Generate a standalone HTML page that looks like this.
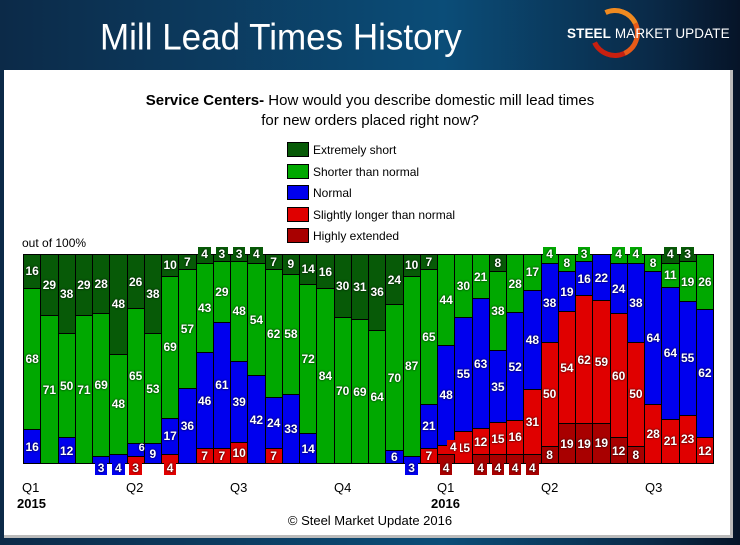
<!DOCTYPE html>
<html><head><meta charset="utf-8"><style>
body{margin:0;width:740px;height:545px;overflow:hidden;background:linear-gradient(90deg,#0c2a48 0%,#0b4d78 60%,#0a2a48 88%,#061428 100%);font-family:"Liberation Sans",sans-serif;position:relative}
.title{position:absolute;left:100px;top:17px;color:#fff;font-size:35px;white-space:nowrap;transform:scaleY(1.05);transform-origin:left top}
.logo{position:absolute;left:567px;top:26px;color:#fff;font-size:13.5px;letter-spacing:0.1px;white-space:nowrap}
.ring{position:absolute;left:590px;top:8px;width:40px;height:40px;border-radius:50%;border:5px solid transparent;border-top-color:#f08a20;border-right-color:#e85a18;border-bottom-color:#c82010;transform:rotate(20deg)}
.panel{position:absolute;left:4px;top:70px;width:726px;height:465px;background:#fff;border-right:3px solid #bbb;border-bottom:3px solid #bbb}
.q{position:absolute;font-size:13px;color:#000}
.plot{position:absolute;left:23px;top:254px;width:691px;height:210px;display:flex;border:1.5px solid #000;box-sizing:border-box;background:#fff}
.bar{flex:1 1 0;display:flex;flex-direction:column;border-left:1px solid #000;min-width:0}
.bar:first-child{border-left:none}
.s{position:relative;display:flex;align-items:center;justify-content:center;border-top:1px solid #000;color:#fff;font-size:12px;font-weight:bold;min-height:0;text-shadow:0 0 2px #000}
.s:first-child{border-top:none}
.a{background:#075a07}.b{background:#00a800}.c{background:#0000ee}.d{background:#e00000}.e{background:#a80000}
.s i{font-style:normal;position:absolute;padding:0 3px;z-index:2}
.t i{top:-8px}.u i{bottom:-12px}
.a i{background:#075a07}.b i{background:#00a800}.c i{background:#0000ee}.d i{background:#e00000}.e i{background:#a80000}
.leg{position:absolute;left:287px;font-size:12px;color:#000}
.leg b{display:inline-block;width:20px;height:13px;border:1px solid #000;vertical-align:-3px;margin-right:4px}
</style></head><body>
<div class="title">Mill Lead Times History</div>
<div class="ring"></div>
<div class="logo"><b>STEEL</b> MARKET <span style="font-weight:normal">UPDATE</span></div>
<div class="panel"></div>
<div style="position:absolute;left:0;width:740px;top:91px;text-align:center;font-size:15px;line-height:20px;color:#000"><b>Service Centers-</b> How would you describe domestic mill lead times<br>for new orders placed right now?</div>
<div class="leg" style="top:142px"><b style="background:#075a07"></b>Extremely short</div>
<div class="leg" style="top:164px"><b style="background:#00a800"></b>Shorter than normal</div>
<div class="leg" style="top:185px"><b style="background:#0000ee"></b>Normal</div>
<div class="leg" style="top:207px"><b style="background:#e00000"></b>Slightly longer than normal</div>
<div class="leg" style="top:228px"><b style="background:#a80000"></b>Highly extended</div>
<div class="q" style="left:22px;top:236px;font-size:12px">out of 100%</div>
<div class="plot">
<div class="bar"><div class="s a" style="flex:16 0 0">16</div><div class="s b" style="flex:68 0 0">68</div><div class="s c" style="flex:16 0 0">16</div></div>
<div class="bar"><div class="s a" style="flex:29 0 0">29</div><div class="s b" style="flex:71 0 0">71</div></div>
<div class="bar"><div class="s a" style="flex:38 0 0">38</div><div class="s b" style="flex:50 0 0">50</div><div class="s c" style="flex:12 0 0">12</div></div>
<div class="bar"><div class="s a" style="flex:29 0 0">29</div><div class="s b" style="flex:71 0 0">71</div></div>
<div class="bar"><div class="s a" style="flex:28 0 0">28</div><div class="s b" style="flex:69 0 0">69</div><div class="s c u" style="flex:3 0 0"><i>3</i></div></div>
<div class="bar"><div class="s a" style="flex:48 0 0">48</div><div class="s b" style="flex:48 0 0">48</div><div class="s c u" style="flex:4 0 0"><i>4</i></div></div>
<div class="bar"><div class="s a" style="flex:26 0 0">26</div><div class="s b" style="flex:65 0 0">65</div><div class="s c" style="flex:6 0 0;font-size:11px"><span style="position:relative;left:6px;top:-2px">6</span></div><div class="s d u" style="flex:3 0 0"><i>3</i></div></div>
<div class="bar"><div class="s a" style="flex:38 0 0">38</div><div class="s b" style="flex:53 0 0">53</div><div class="s c" style="flex:9 0 0">9</div></div>
<div class="bar"><div class="s a" style="flex:10 0 0">10</div><div class="s b" style="flex:69 0 0">69</div><div class="s c" style="flex:17 0 0">17</div><div class="s d u" style="flex:4 0 0"><i>4</i></div></div>
<div class="bar"><div class="s a" style="flex:7 0 0">7</div><div class="s b" style="flex:57 0 0">57</div><div class="s c" style="flex:36 0 0">36</div></div>
<div class="bar"><div class="s a t" style="flex:4 0 0"><i>4</i></div><div class="s b" style="flex:43 0 0">43</div><div class="s c" style="flex:46 0 0">46</div><div class="s d" style="flex:7 0 0">7</div></div>
<div class="bar"><div class="s a t" style="flex:3 0 0"><i>3</i></div><div class="s b" style="flex:29 0 0">29</div><div class="s c" style="flex:61 0 0">61</div><div class="s d" style="flex:7 0 0">7</div></div>
<div class="bar"><div class="s a t" style="flex:3 0 0"><i>3</i></div><div class="s b" style="flex:48 0 0">48</div><div class="s c" style="flex:39 0 0">39</div><div class="s d" style="flex:10 0 0">10</div></div>
<div class="bar"><div class="s a t" style="flex:4 0 0"><i>4</i></div><div class="s b" style="flex:54 0 0">54</div><div class="s c" style="flex:42 0 0">42</div></div>
<div class="bar"><div class="s a" style="flex:7 0 0">7</div><div class="s b" style="flex:62 0 0">62</div><div class="s c" style="flex:24 0 0">24</div><div class="s d" style="flex:7 0 0">7</div></div>
<div class="bar"><div class="s a" style="flex:9 0 0">9</div><div class="s b" style="flex:58 0 0">58</div><div class="s c" style="flex:33 0 0">33</div></div>
<div class="bar"><div class="s a" style="flex:14 0 0">14</div><div class="s b" style="flex:72 0 0">72</div><div class="s c" style="flex:14 0 0">14</div></div>
<div class="bar"><div class="s a" style="flex:16 0 0">16</div><div class="s b" style="flex:84 0 0">84</div></div>
<div class="bar"><div class="s a" style="flex:30 0 0">30</div><div class="s b" style="flex:70 0 0">70</div></div>
<div class="bar"><div class="s a" style="flex:31 0 0">31</div><div class="s b" style="flex:69 0 0">69</div></div>
<div class="bar"><div class="s a" style="flex:36 0 0">36</div><div class="s b" style="flex:64 0 0">64</div></div>
<div class="bar"><div class="s a" style="flex:24 0 0">24</div><div class="s b" style="flex:70 0 0">70</div><div class="s c" style="flex:6 0 0">6</div></div>
<div class="bar"><div class="s a" style="flex:10 0 0">10</div><div class="s b" style="flex:87 0 0">87</div><div class="s c u" style="flex:3 0 0"><i>3</i></div></div>
<div class="bar"><div class="s a" style="flex:7 0 0">7</div><div class="s b" style="flex:65 0 0">65</div><div class="s c" style="flex:21 0 0">21</div><div class="s d" style="flex:7 0 0">7</div></div>
<div class="bar"><div class="s b" style="flex:44 0 0">44</div><div class="s c" style="flex:48 0 0">48</div><div class="s d" style="flex:4 0 0"><i style="left:9px;top:-6px">4</i></div><div class="s e u" style="flex:4 0 0"><i>4</i></div></div>
<div class="bar"><div class="s b" style="flex:30 0 0">30</div><div class="s c" style="flex:55 0 0">55</div><div class="s d" style="flex:15 0 0">15</div></div>
<div class="bar"><div class="s b" style="flex:21 0 0">21</div><div class="s c" style="flex:63 0 0">63</div><div class="s d" style="flex:12 0 0">12</div><div class="s e u" style="flex:4 0 0"><i>4</i></div></div>
<div class="bar"><div class="s a" style="flex:8 0 0">8</div><div class="s b" style="flex:38 0 0">38</div><div class="s c" style="flex:35 0 0">35</div><div class="s d" style="flex:15 0 0">15</div><div class="s e u" style="flex:4 0 0"><i>4</i></div></div>
<div class="bar"><div class="s b" style="flex:28 0 0">28</div><div class="s c" style="flex:52 0 0">52</div><div class="s d" style="flex:16 0 0">16</div><div class="s e u" style="flex:4 0 0"><i>4</i></div></div>
<div class="bar"><div class="s b" style="flex:17 0 0">17</div><div class="s c" style="flex:48 0 0">48</div><div class="s d" style="flex:31 0 0">31</div><div class="s e u" style="flex:4 0 0"><i>4</i></div></div>
<div class="bar"><div class="s b t" style="flex:4 0 0"><i>4</i></div><div class="s c" style="flex:38 0 0">38</div><div class="s d" style="flex:50 0 0">50</div><div class="s e" style="flex:8 0 0">8</div></div>
<div class="bar"><div class="s b" style="flex:8 0 0">8</div><div class="s c" style="flex:19 0 0">19</div><div class="s d" style="flex:54 0 0">54</div><div class="s e" style="flex:19 0 0">19</div></div>
<div class="bar"><div class="s b t" style="flex:3 0 0"><i>3</i></div><div class="s c" style="flex:16 0 0">16</div><div class="s d" style="flex:62 0 0">62</div><div class="s e" style="flex:19 0 0">19</div></div>
<div class="bar"><div class="s c" style="flex:22 0 0">22</div><div class="s d" style="flex:59 0 0">59</div><div class="s e" style="flex:19 0 0">19</div></div>
<div class="bar"><div class="s b t" style="flex:4 0 0"><i>4</i></div><div class="s c" style="flex:24 0 0">24</div><div class="s d" style="flex:60 0 0">60</div><div class="s e" style="flex:12 0 0">12</div></div>
<div class="bar"><div class="s b t" style="flex:4 0 0"><i>4</i></div><div class="s c" style="flex:38 0 0">38</div><div class="s d" style="flex:50 0 0">50</div><div class="s e" style="flex:8 0 0">8</div></div>
<div class="bar"><div class="s b" style="flex:8 0 0">8</div><div class="s c" style="flex:64 0 0">64</div><div class="s d" style="flex:28 0 0">28</div></div>
<div class="bar"><div class="s a t" style="flex:4 0 0"><i>4</i></div><div class="s b" style="flex:11 0 0">11</div><div class="s c" style="flex:64 0 0">64</div><div class="s d" style="flex:21 0 0">21</div></div>
<div class="bar"><div class="s a t" style="flex:3 0 0"><i>3</i></div><div class="s b" style="flex:19 0 0">19</div><div class="s c" style="flex:55 0 0">55</div><div class="s d" style="flex:23 0 0">23</div></div>
<div class="bar"><div class="s b" style="flex:26 0 0">26</div><div class="s c" style="flex:62 0 0">62</div><div class="s d" style="flex:12 0 0">12</div></div>
</div>
<div class="q" style="left:22px;top:480px">Q1</div>
<div class="q" style="left:17px;top:496px;font-weight:bold">2015</div>
<div class="q" style="left:126px;top:480px">Q2</div>
<div class="q" style="left:230px;top:480px">Q3</div>
<div class="q" style="left:334px;top:480px">Q4</div>
<div class="q" style="left:437px;top:480px">Q1</div>
<div class="q" style="left:431px;top:496px;font-weight:bold">2016</div>
<div class="q" style="left:541px;top:480px">Q2</div>
<div class="q" style="left:645px;top:480px">Q3</div>
<div class="q" style="left:0;width:740px;top:513px;text-align:center">© Steel Market Update 2016</div>
</body></html>
